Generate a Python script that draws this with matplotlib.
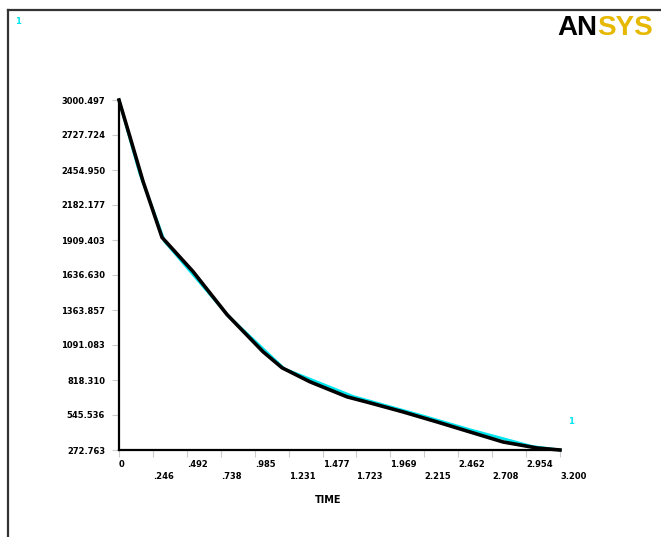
import matplotlib
matplotlib.use("Agg")
import matplotlib.pyplot as plt
from matplotlib.lines import Line2D
import numpy as np

# ---- data ----
time_black = [0.0, 0.080, 0.174, 0.312, 0.537, 0.784, 1.045, 1.183, 1.386, 1.655,
              1.821, 2.061, 2.308, 2.547, 2.787, 3.033, 3.2]
value_black = [3000.5, 2711.3, 2367.4, 1929.7, 1663.9, 1327.9, 1038.7, 913.6, 804.2, 687.0,
               640.1, 569.7, 491.6, 413.4, 335.3, 288.4, 272.8]
time_cyan = [0.0, 0.15, 0.33, 0.8, 1.2, 1.7, 2.2, 2.55, 3.0, 3.2]
value_cyan = [3000.5, 2430, 1900, 1310, 905, 690, 540, 430, 300, 272.8]

y_min, y_max = 272.763, 3000.497
x_min, x_max = 0.0, 3.2
n_yticks = 11
n_xticks = 14
x_label = "TIME"

W, H = 661, 537
fig = plt.figure(figsize=(W / 100, H / 100), dpi=100)
fig.patch.set_facecolor("white")

ax = fig.add_axes([119 / W, 1 - 450 / H, (560 - 119) / W, (450 - 100) / H])
ax.set_xlim(x_min, x_max)
ax.set_ylim(y_min, y_max)

ax.plot(time_cyan, value_cyan, color="#00e5ee", lw=2.0, zorder=2, clip_on=False)
ax.plot(time_black, value_black, color="black", lw=2.6, zorder=3, clip_on=False)

for s in ["top", "right"]:
    ax.spines[s].set_visible(False)
for s in ["left", "bottom"]:
    ax.spines[s].set_linewidth(1.6)
    ax.spines[s].set_color("black")

yt = np.linspace(y_min, y_max, n_yticks)
ax.set_yticks(yt)
ax.set_yticklabels(["%.3f" % v for v in yt], fontsize=6, fontweight="bold")

xt = np.linspace(x_min, x_max, n_xticks)
def fmt(v):
    if v == 0:
        return "0"
    s = "%.3f" % v
    if s.startswith("0"):
        s = s[1:]
    return s
labels = []
for i, v in enumerate(xt):
    labels.append(fmt(v) if i % 2 == 0 else "\n" + fmt(v))
ax.set_xticks(xt)
ax.set_xticklabels(labels, fontsize=6, fontweight="bold", ha="left", linespacing=1.5)
ax.tick_params(axis="both", direction="out", length=5, width=0.8, color="#cccccc", pad=2)
ax.tick_params(axis="y", pad=5)

fig.text(328 / W, 1 - 500 / H, x_label, fontsize=7, fontweight="bold", ha="center", va="center")

# frame
fig.add_artist(Line2D([8 / W, 8 / W], [0, 1 - 10 / H], color="#333333", lw=1.6))
fig.add_artist(Line2D([8 / W, 1], [1 - 10 / H, 1 - 10 / H], color="#333333", lw=1.6))

# markers
fig.text(18 / W, 1 - 22 / H, "1", color="#00e5ee", fontsize=6, fontweight="bold", ha="center", va="center")
fig.text(571 / W, 1 - 421 / H, "1", color="#00e5ee", fontsize=6, fontweight="bold", ha="center", va="center")

# logo
t1 = fig.text(557 / W, 1 - 35 / H, "AN", color="black", fontsize=20, fontweight="bold",
              ha="left", va="baseline", family="Liberation Sans")
fig.canvas.draw()
bb = t1.get_window_extent(renderer=fig.canvas.get_renderer())
fig.text(bb.x1 / W, 1 - 35 / H, "SYS", color="#e6b800", fontsize=20, fontweight="bold",
         ha="left", va="baseline", family="Liberation Sans")

fig.savefig("out.png", dpi=100, facecolor="white")
